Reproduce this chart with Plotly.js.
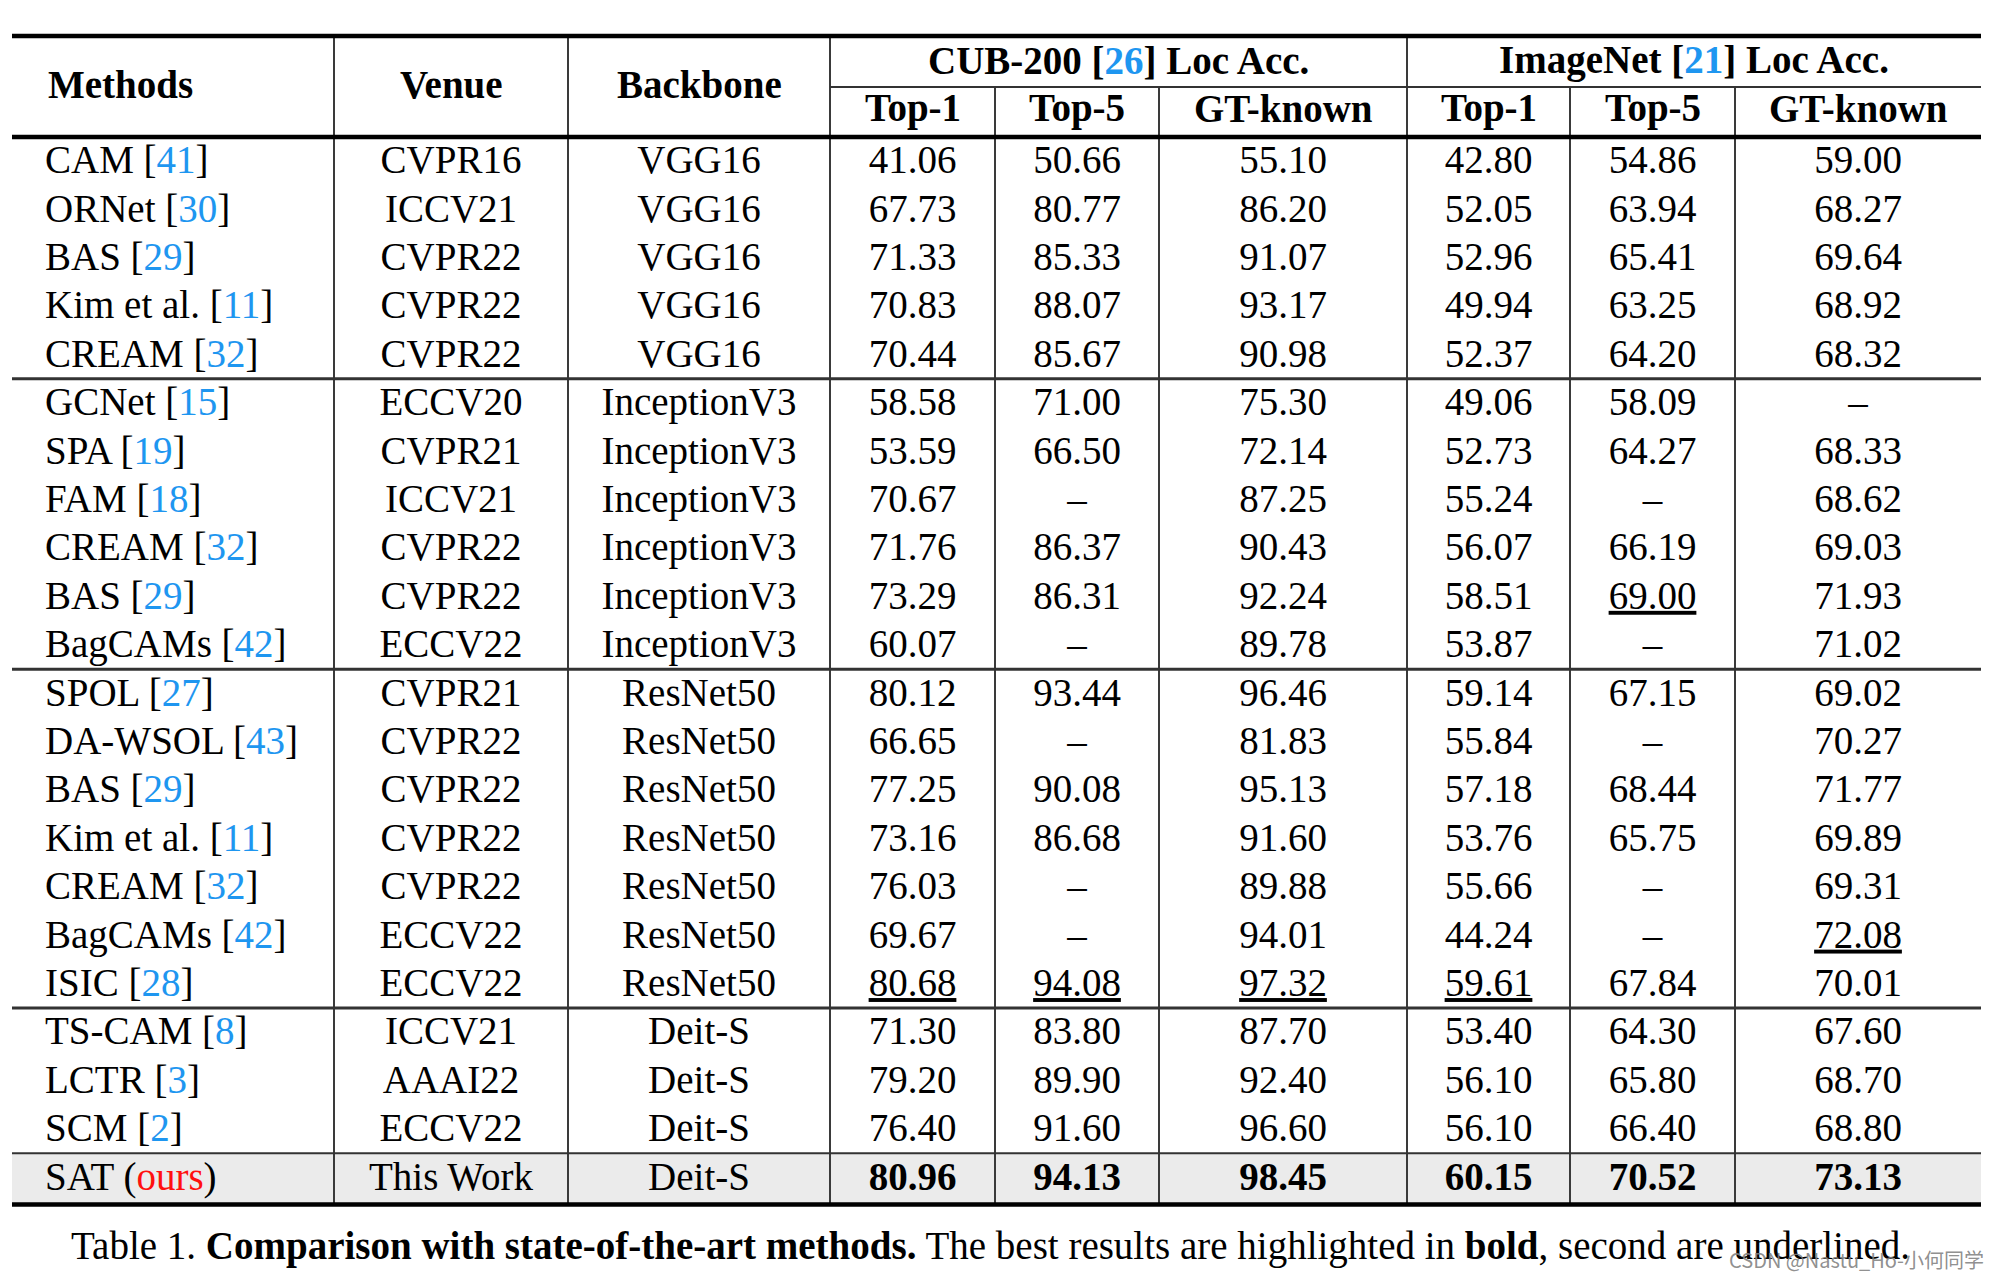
<!DOCTYPE html>
<html>
<head>
<meta charset="utf-8">
<script src="https://cdn.plot.ly/plotly-3.0.1.min.js"></script>
<style>html,body{margin:0;padding:0;background:#fff;}</style>
</head>
<body>
<div id="chart" style="width:2000px;height:1279px;"></div>
<script>
// ---------------- DATA ----------------
const methods = ['CAM','ORNet','BAS','Kim et al.','CREAM',
  'GCNet','SPA','FAM','CREAM','BAS','BagCAMs',
  'SPOL','DA-WSOL','BAS','Kim et al.','CREAM','BagCAMs','ISIC',
  'TS-CAM','LCTR','SCM','SAT'];
const refs = ['41','30','29','11','32',
  '15','19','18','32','29','42',
  '27','43','29','11','32','42','28',
  '8','3','2','ours'];
const venues = ['CVPR16','ICCV21','CVPR22','CVPR22','CVPR22',
  'ECCV20','CVPR21','ICCV21','CVPR22','CVPR22','ECCV22',
  'CVPR21','CVPR22','CVPR22','CVPR22','CVPR22','ECCV22','ECCV22',
  'ICCV21','AAAI22','ECCV22','This Work'];
const backbones = ['VGG16','VGG16','VGG16','VGG16','VGG16',
  'InceptionV3','InceptionV3','InceptionV3','InceptionV3','InceptionV3','InceptionV3',
  'ResNet50','ResNet50','ResNet50','ResNet50','ResNet50','ResNet50','ResNet50',
  'Deit-S','Deit-S','Deit-S','Deit-S'];
const cubTop1 = [41.06,67.73,71.33,70.83,70.44, 58.58,53.59,70.67,71.76,73.29,60.07,
  80.12,66.65,77.25,73.16,76.03,69.67,80.68, 71.30,79.20,76.40, 80.96];
const cubTop5 = [50.66,80.77,85.33,88.07,85.67, 71.00,66.50,null,86.37,86.31,null,
  93.44,null,90.08,86.68,null,null,94.08, 83.80,89.90,91.60, 94.13];
const cubGT = [55.10,86.20,91.07,93.17,90.98, 75.30,72.14,87.25,90.43,92.24,89.78,
  96.46,81.83,95.13,91.60,89.88,94.01,97.32, 87.70,92.40,96.60, 98.45];
const imnTop1 = [42.80,52.05,52.96,49.94,52.37, 49.06,52.73,55.24,56.07,58.51,53.87,
  59.14,55.84,57.18,53.76,55.66,44.24,59.61, 53.40,56.10,56.10, 60.15];
const imnTop5 = [54.86,63.94,65.41,63.25,64.20, 58.09,64.27,null,66.19,69.00,null,
  67.15,null,68.44,65.75,null,null,67.84, 64.30,65.80,66.40, 70.52];
const imnGT = [59.00,68.27,69.64,68.92,68.32, null,68.33,68.62,69.03,71.93,71.02,
  69.02,70.27,71.77,69.89,69.31,72.08,70.01, 67.60,68.70,68.80, 73.13];
const mainHeaders = ['Methods','Venue','Backbone'];
const datasetHeaders = ['CUB-200','ImageNet'];
const datasetRefs = ['26','21'];
const subHeaders = ['Top-1','Top-5','GT-known'];
const groupLastRows = [4, 10, 17, 20];
const caption = 'Table 1. <b>Comparison with state-of-the-art methods.</b> The best results are highlighted in <b>bold</b>, second are underlined.';
const watermark = 'CSDN @Nastu_Ho-小何同学';

// ---------------- LAYOUT CONSTANTS ----------------
const FONT = 'Liberation Serif, Times New Roman, serif';
const FS = 39;
const CITE = '#1e96f0';
const OURS = '#ff1010';
const colEdges = [12, 334, 568, 830, 995, 1159, 1407, 1570, 1735, 1981];
const Y_TOP = 36, Y_MID = 87, Y_HEAD = 137, ROW0 = 161, ROWH = 48.4, TXT_DY = 2.5;
const rowY = i => ROW0 + i * ROWH;
const colC = k => (colEdges[k] + colEdges[k + 1]) / 2;
const nRows = methods.length;
const Y_BOT = rowY(nRows - 1) + ROWH / 2 + 3;

function cite(r) {
  if (r === 'ours') return ' (<span style="color:' + OURS + '">ours</span>)';
  return ' [<span style="color:' + CITE + '">' + r + '</span>]';
}
function fmtCol(vals) {
  const uniq = [...new Set(vals.filter(v => v != null))].sort((a, b) => b - a);
  const best = uniq[0], second = uniq[1];
  return vals.map(v => {
    if (v == null) return '–';
    const s = v.toFixed(2);
    if (v === best) return '<b>' + s + '</b>';
    if (v === second) return '<span style="text-decoration:underline;text-decoration-thickness:3px;text-decoration-color:#555">' + s + '</span>';
    return s;
  });
}

const ys = methods.map((_, i) => rowY(i) + TXT_DY);
const traces = [];
function textTrace(x, texts, pos) {
  traces.push({
    type: 'scatter', mode: 'text',
    x: texts.map(() => x), y: ys, text: texts,
    textposition: pos || 'middle center',
    textfont: {family: FONT, size: FS, color: '#000'},
    hoverinfo: 'skip', showlegend: false, cliponaxis: false
  });
}
textTrace(45, methods.map((m, i) => m + cite(refs[i])), 'middle right');
textTrace(colC(1), venues);
textTrace(colC(2), backbones);
[cubTop1, cubTop5, cubGT, imnTop1, imnTop5, imnGT].forEach((vals, k) => {
  textTrace(colC(3 + k), fmtCol(vals));
});

// ---------------- SHAPES ----------------
const shapes = [];
const L = colEdges[0], R = colEdges[colEdges.length - 1];
shapes.push({type: 'rect', xref: 'x', yref: 'y', x0: L, x1: R,
  y0: rowY(nRows - 1) - ROWH / 2, y1: Y_BOT, fillcolor: '#ebebeb', line: {width: 0}, layer: 'below'});
function hline(y, w, x0, x1, c) {
  shapes.push({type: 'line', xref: 'x', yref: 'y', x0: x0 == null ? L : x0, x1: x1 == null ? R : x1,
    y0: y, y1: y, line: {color: c || '#000', width: w}});
}
function vline(x, y0, y1) {
  shapes.push({type: 'line', xref: 'x', yref: 'y', x0: x, x1: x, y0: y0, y1: y1,
    line: {color: '#3a3a3a', width: 2}});
}
[1, 2, 3, 6].forEach(k => vline(colEdges[k], Y_TOP, Y_BOT));
[4, 5, 7, 8].forEach(k => vline(colEdges[k], Y_MID, Y_BOT));
hline(Y_TOP, 4.5);
hline(Y_MID, 2, colEdges[3], R, '#333');
hline(Y_HEAD, 4.5);
groupLastRows.forEach((r, j) => {
  hline(rowY(r) + ROWH / 2, j === groupLastRows.length - 1 ? 2 : 3, null, null, '#333');
});
hline(Y_BOT, 4.5);

// ---------------- ANNOTATIONS ----------------
const ann = [];
function addAnn(x, y, text, xanchor, font) {
  ann.push({xref: 'x', yref: 'y', x: x, y: y, text: text, showarrow: false,
    xanchor: xanchor || 'center', yanchor: 'middle',
    font: font || {family: FONT, size: FS, color: '#000'}});
}
addAnn(46, 84, '<b>' + mainHeaders[0] + '</b>', 'left');
addAnn(colC(1), 84, '<b>' + mainHeaders[1] + '</b>');
addAnn(colC(2), 84, '<b>' + mainHeaders[2] + '</b>');
datasetHeaders.forEach((d, j) => {
  const x = (colEdges[3 + 3 * j] + colEdges[6 + 3 * j]) / 2;
  addAnn(x, 60, '<b>' + d + ' [<span style="color:' + CITE + '">' + datasetRefs[j] + '</span>] Loc Acc.</b>');
  subHeaders.forEach((s, k) => addAnn(colC(3 + 3 * j + k), 108, '<b>' + s + '</b>'));
});
addAnn(69, 1246, caption, 'left');
ann.push({xref: 'x', yref: 'y', x: 1986, y: 1259, text: watermark, showarrow: false,
  xanchor: 'right', yanchor: 'middle',
  font: {family: 'Noto Sans CJK SC, Noto Sans, sans-serif', size: 20, color: 'rgba(130,130,130,0.9)'}});

const layout = {
  width: 2000, height: 1279,
  margin: {l: 0, r: 0, t: 0, b: 0, pad: 0},
  paper_bgcolor: '#fff', plot_bgcolor: '#fff',
  font: {family: FONT, size: FS, color: '#000'},
  xaxis: {range: [0, 2000], visible: false, fixedrange: true},
  yaxis: {range: [1279, 0], visible: false, fixedrange: true},
  shapes: shapes, annotations: ann, showlegend: false
};
Plotly.newPlot('chart', traces, layout, {displayModeBar: false, staticPlot: true});
</script>
</body>
</html>
